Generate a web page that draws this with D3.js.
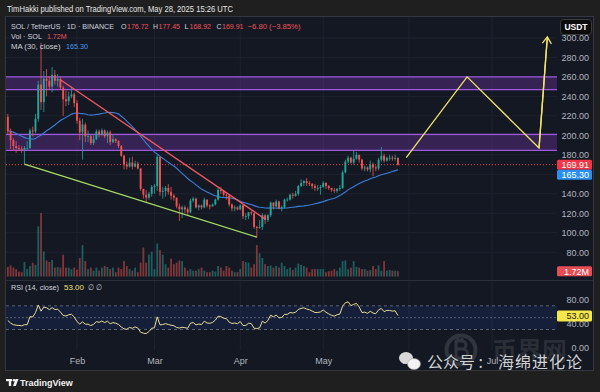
<!DOCTYPE html>
<html><head><meta charset="utf-8">
<script src="https://cdn.jsdelivr.net/npm/d3@7/dist/d3.min.js"></script>
<style>
html,body{margin:0;padding:0;background:#1f1f1f;}
svg{display:block;font-family:"Liberation Sans",Arial,sans-serif;}
</style></head><body>
<svg id="c" width="600" height="392"></svg>
<script>
// ---------- DATA (SOL/USDT daily, Binance) ----------
const startDate = "2025-01-07";
const opens = [219,204,195,189,187,186,185,187,187,205,
204,217,252,234,258,256,250,262,256,258,
249,237,235,240,242,233,215,203,211,199,
199,192,196,204,201,205,199,203,193,196,
194,189,179,170,168,172,168,171,166,145,
139,136,140,147,148,178,142,143,146,142,
138,136,127,124,126,124,121,133,135,126,
128,126,134,128,127,129,134,144,143,139,
138,129,125,126,124,128,117,117,121,120,
106,105,106,118,113,118,131,127,132,125,
126,134,134,139,138,140,148,151,153,151,
150,148,146,146,147,151,148,146,144,143,
145,146,162,173,177,172,176,180,175,166,
167,165,170,167,166,175,179,174,177,177,
176,176.72];
const highs = [222,207,197,194,190,189,189,194,207,209,
222,256,295,266,268,261,270,267,263,260,
251,246,245,250,244,236,218,217,213,205,
201,200,206,206,207,206,205,205,201,197,
195,190,180,173,177,178,174,173,166,145,
144,142,149,150,180,178,147,148,150,147,
140,136,130,128,128,126,135,137,136,129,
129,136,134,129,130,135,146,147,144,140,
139,130,128,127,129,129,120,121,122,120,
107,113,120,119,119,132,131,134,133,128,
135,136,140,141,143,149,155,154,156,153,
151,150,149,149,153,152,149,146,146,146,
149,164,175,179,178,184,183,180,176,169,
168,174,172,169,177,188,181,178,180,179,
180,177.45];
const lows = [201,186,184,182,184,182,170,185,186,199,
202,214,226,224,240,247,244,252,250,247,
220,230,231,238,229,212,195,175,193,193,
190,190,195,198,199,197,192,190,192,192,
187,178,165,165,167,165,167,165,143,135,
131,134,137,140,143,138,135,137,139,134,
133,125,112,115,120,118,120,131,125,123,
124,125,126,124,127,128,133,140,137,134,
127,122,122,123,123,114,113,114,118,104,
95,104,103,109,111,116,124,126,124,122,
125,132,133,135,137,138,147,148,148,148,
145,143,143,139,146,145,144,142,141,141,
143,145,161,171,171,170,175,172,164,163,
163,162,158,163,164,173,172,173,174,174,
174,168.92];
const closes = [204,195,189,187,186,185,187,187,205,204,
217,252,234,258,256,250,262,256,258,249,
237,235,240,242,233,215,203,211,199,199,
192,196,204,201,205,199,203,193,196,194,
189,179,170,168,172,168,171,166,145,139,
136,140,147,148,178,142,143,146,142,138,
136,127,124,126,124,121,133,135,126,128,
126,134,128,127,129,134,144,143,139,138,
129,125,126,124,128,117,117,121,120,106,
105,106,118,113,118,131,127,132,125,126,
134,134,139,138,140,148,151,153,151,150,
148,146,146,147,151,148,146,144,143,145,
146,162,173,177,172,176,180,175,166,167,
165,170,167,166,175,179,174,177,177,176,
176.72,169.91];
// volume in millions of SOL
const volumes = [3.1,3.6,2.9,2.4,1.6,1.4,4.7,2.4,3.4,4.5,
3.8,16.3,20.6,8.1,5.2,4.7,5.4,2.9,3.1,2.9,
7.1,2.9,2.9,2.4,2.9,2.2,6.0,10.2,5.0,2.4,
2.9,1.9,2.9,1.9,2.9,3.4,3.1,2.4,2.9,1.4,
2.9,2.4,5.0,3.4,2.4,1.9,2.9,1.4,4.5,9.4,
4.5,7.1,8.1,2.4,10.7,8.6,7.1,4.0,2.9,5.8,
4.0,4.5,5.2,5.0,2.9,1.9,2.4,1.9,1.9,2.4,
2.9,1.9,1.4,1.4,1.9,1.6,3.4,2.9,1.9,3.4,
2.9,1.9,1.4,1.4,2.4,5.0,4.7,4.5,2.9,4.0,
10.2,7.5,6.0,4.0,3.4,3.6,2.9,3.4,2.9,4.5,
3.4,2.4,2.9,2.1,2.9,4.2,3.8,3.4,2.9,1.4,
2.4,2.4,2.4,2.4,2.4,1.4,1.7,1.9,2.4,1.9,
2.9,5.0,5.2,2.4,2.9,5.0,3.1,2.9,2.4,2.4,
1.9,2.1,3.4,2.4,3.6,1.9,5.0,1.9,2.1,1.9,
1.9,1.72];
// closes of the 30 days before the first visible candle (MA / RSI warm-up)
const priorCloses = [236,214,212,228,226,229,223,221,215,216,199,191,192,188,189,195,198,197,186,183,188,186,193,189,205,209,215,217,213,219];

const priceTicks = [80,100,120,140,180,200,220,240,260,280,300];
const gridPrices = [80,100,120,140,160,180,200,220,240,260,280,300];
const rsiTicks = [0,40,80];
const monthTicks = ["2025-02-01","2025-03-01","2025-04-01","2025-05-01","2025-06-01","2025-07-01"];

const zones = [[184.5,201],[247,260]];
const resistance = {dates:["2025-01-26","2025-04-10"], prices:[257,114]};
const support = {dates:["2025-01-13","2025-04-07"], prices:[170.5,95.5]};
const projection = {dates:["2025-05-31","2025-06-22","2025-07-18","2025-07-21"], prices:[177,260,187,301]};

const legend = {symbol:"SOL / TetherUS · 1D · BINANCE", O:"176.72", H:"177.45", L:"168.92", C:"169.91", chg:"−6.80 (−3.85%)",
  vol:"1.72M", ma:"165.30", rsi:"53.00"};
const lastClose = 169.91, lastMA = 165.30, lastVol = 1.72, lastRSI = 53.00;

// ---------- SETUP ----------
const svg = d3.select("#c");
const W = 600, H = 392;
const PL = 6, PR = 557, PT = 17, PB = 279;
const parse = d3.utcParse("%Y-%m-%d");
const t0 = parse(startDate);
const dates = closes.map((_, i) => d3.utcDay.offset(t0, i));

const x = d3.scaleUtc().domain([parse("2025-02-01"), parse("2025-07-01")]).range([77, 492]);
const y = d3.scaleLinear().domain([52.5, 322.5]).range([279, 16]);
const yVol = d3.scaleLinear().domain([0, 20]).range([276.5, 214.9]);
const yR = d3.scaleLinear().domain([0, 100]).range([347.3, 288.05]);

const UP = "#26a69a", DN = "#ef5350";

svg.append("rect").attr("width", W).attr("height", H).attr("fill", "#1f1f1f");
svg.append("rect").attr("x", 5.5).attr("y", 16.5).attr("width", 588).attr("height", 354)
  .attr("fill", "#141823").attr("stroke", "#34373f");

const defs = svg.append("defs");
defs.append("clipPath").attr("id", "mainclip").append("rect")
  .attr("x", PL).attr("y", PT).attr("width", PR - PL).attr("height", PB - PT);
defs.append("clipPath").attr("id", "rsiclip").append("rect")
  .attr("x", PL).attr("y", 281).attr("width", PR - PL).attr("height", 69);

// header
svg.append("text").attr("x", 7).attr("y", 12).attr("fill", "#e6e6e6").attr("font-size", 9)
  .attr("textLength", 226).attr("lengthAdjust", "spacingAndGlyphs")
  .text("TimHakki published on TradingView.com, May 28, 2025 15:26 UTC");

// grid
const grid = svg.append("g");
grid.selectAll(".hg").data(gridPrices).join("line")
  .attr("x1", PL).attr("x2", PR).attr("y1", d => y(d)).attr("y2", d => y(d))
  .attr("stroke", "#1f2330").attr("stroke-width", 1);
grid.selectAll(".vg").data(monthTicks).join("line")
  .attr("x1", d => x(parse(d))).attr("x2", d => x(parse(d))).attr("y1", PT).attr("y2", 350)
  .attr("stroke", "#1f2330").attr("stroke-width", 1);

// pane separator
svg.append("line").attr("x1", 6).attr("x2", 593).attr("y1", 280.5).attr("y2", 280.5).attr("stroke", "#2a2e39");

const main = svg.append("g").attr("clip-path", "url(#mainclip)");

// zones
zones.forEach(z => {
  main.append("rect").attr("x", PL).attr("width", PR - PL)
    .attr("y", y(z[1])).attr("height", y(z[0]) - y(z[1]))
    .attr("fill", "rgba(126,60,190,0.32)");
  [z[0], z[1]].forEach(v => main.append("line").attr("x1", PL).attr("x2", PR)
    .attr("y1", y(v)).attr("y2", y(v)).attr("stroke", "#9b59e0").attr("stroke-width", 1.3));
});

// volume
main.selectAll(".vol").data(volumes).join("rect")
  .attr("x", (d, i) => x(dates[i]) - 0.9).attr("width", 1.8)
  .attr("y", d => yVol(d)).attr("height", d => yVol(0) - yVol(d))
  .attr("fill", (d, i) => closes[i] >= opens[i] ? UP : DN).attr("opacity", 0.5);

// current price line
main.append("line").attr("x1", PL).attr("x2", PR).attr("y1", y(lastClose)).attr("y2", y(lastClose))
  .attr("stroke", "#f23645").attr("stroke-width", 1).attr("stroke-dasharray", "1,2");

// MA(30)
const allCloses = priorCloses.concat(closes);
const off = priorCloses.length;
const ma = closes.map((_, i) => d3.mean(allCloses.slice(off + i - 29, off + i + 1)));
main.append("path").datum(ma)
  .attr("d", d3.line().x((d, i) => x(dates[i])).y(d => y(d)))
  .attr("fill", "none").attr("stroke", "#3a7fd6").attr("stroke-width", 1.1);

// candles
const cg = main.append("g");
closes.forEach((c, i) => {
  const col = c >= opens[i] ? UP : DN;
  const cx = x(dates[i]);
  cg.append("line").attr("x1", cx).attr("x2", cx).attr("y1", y(highs[i])).attr("y2", y(lows[i]))
    .attr("stroke", col).attr("stroke-width", 0.8);
  const top = y(Math.max(c, opens[i])), bot = y(Math.min(c, opens[i]));
  cg.append("rect").attr("x", cx - 0.95).attr("width", 1.9).attr("y", top)
    .attr("height", Math.max(0.8, bot - top)).attr("fill", col);
});

// trend lines
const lineGen = d3.line().x(d => x(d[0])).y(d => y(d[1]));
function trend(obj, color) {
  const pts = obj.dates.map((d, i) => [parse(d), obj.prices[i]]);
  main.append("path").datum(pts).attr("d", lineGen).attr("fill", "none")
    .attr("stroke", color).attr("stroke-width", 1.3);
  return pts;
}
trend(resistance, "#f0595f");
trend(support, "#a6dc62");
const proj = trend(projection, "#f2e46a");
// arrow head on projection
{
  const a = proj[proj.length - 2], b = proj[proj.length - 1];
  const ax = x(a[0]), ay = y(a[1]), bx = x(b[0]), by = y(b[1]);
  const ang = Math.atan2(by - ay, bx - ax), L = 8, s = 0.6;
  const p1 = [bx - L * Math.cos(ang - s), by - L * Math.sin(ang - s)];
  const p2 = [bx - L * Math.cos(ang + s), by - L * Math.sin(ang + s)];
  svg.append("path").attr("d", `M${p1[0]},${p1[1]}L${bx},${by}L${p2[0]},${p2[1]}`)
    .attr("fill", "none").attr("stroke", "#f2e46a").attr("stroke-width", 1.3);
  svg.append("line").attr("x1", ax).attr("y1", ay).attr("x2", bx).attr("y2", by)
    .attr("stroke", "#f2e46a").attr("stroke-width", 1.3);
}

// price axis
const axisFont = 9, axisCol = "#b2b5be";
const pax = svg.append("g").attr("transform", "translate(589,0)")
  .call(d3.axisLeft(y).tickValues(priceTicks).tickFormat(d3.format(".2f")).tickSize(0).tickPadding(0));
pax.select(".domain").remove();
pax.selectAll("text").attr("fill", axisCol).attr("font-size", axisFont).attr("font-family", "Liberation Sans, Arial, sans-serif");

// price labels
function tag(yc, txt, bg, fg) {
  svg.append("rect").attr("x", 557).attr("y", yc - 5).attr("width", 35).attr("height", 10).attr("rx", 1.5).attr("fill", bg);
  svg.append("text").attr("x", 589).attr("y", yc + 3.3).attr("text-anchor", "end").attr("fill", fg)
    .attr("font-size", 9).text(txt);
}
const yc1 = y(lastClose);
tag(yc1, lastClose.toFixed(2), "#f23645", "#ffffff");
tag(Math.max(y(lastMA), yc1 + 10), lastMA.toFixed(2), "#2a8ff0", "#ffffff");
tag(yVol(lastVol), legend.vol, "#e84c55", "#ffffff");

// USDT box
svg.append("rect").attr("x", 560.5).attr("y", 19.5).attr("width", 31).attr("height", 15).attr("rx", 3)
  .attr("fill", "#0c0c0c").attr("stroke", "#3c3c3c");
svg.append("text").attr("x", 576).attr("y", 30).attr("text-anchor", "middle").attr("fill", "#ffffff")
  .attr("font-size", 8.5).attr("font-weight", "bold").text("USDT");

// legend (each piece fitted to the width it takes in the reference)
const lg = svg.append("g").attr("font-size", 7.6);
const gray = "#d1d4dc", red = "#f0525a";
function t(xp, yp, txt, col, w) {
  const e = lg.append("text").attr("x", xp).attr("y", yp).attr("fill", col).text(txt);
  if (w) e.attr("textLength", w).attr("lengthAdjust", "spacingAndGlyphs");
}
t(11, 29, legend.symbol, gray, 103);
t(121, 29, "O", gray, 5.5); t(127, 29, legend.O, red, 21.5);
t(153, 29, "H", gray, 5); t(158.5, 29, legend.H, red, 21.5);
t(184.5, 29, "L", gray, 4.2); t(189.5, 29, legend.L, red, 21.5);
t(216.5, 29, "C", gray, 5); t(222, 29, legend.C, red, 21.5);
t(247.5, 29, legend.chg, red, 53);
t(11, 39, "Vol · SOL", gray, 31); t(47, 39, legend.vol, red, 19.5);
t(11, 49, "MA (30, close)", gray, 49.5); t(66, 49, legend.ma, "#4a9aea", 22);

// ---------- RSI ----------
function rsiCalc(s, n) {
  const out = new Array(s.length).fill(null);
  let g = 0, l = 0;
  for (let k = 1; k <= n; k++) { const d = s[k] - s[k - 1]; if (d > 0) g += d; else l -= d; }
  g /= n; l /= n; out[n] = 100 - 100 / (1 + g / l);
  for (let k = n + 1; k < s.length; k++) {
    const d = s[k] - s[k - 1];
    g = (g * (n - 1) + Math.max(d, 0)) / n; l = (l * (n - 1) + Math.max(-d, 0)) / n;
    out[k] = l === 0 ? 100 : 100 - 100 / (1 + g / l);
  }
  return out;
}
const rsiAll = rsiCalc(allCloses, 14);
const rsi = closes.map((_, i) => rsiAll[off + i]);
const rg = svg.append("g").attr("clip-path", "url(#rsiclip)");
rg.append("rect").attr("x", PL).attr("width", PR - PL).attr("y", yR(70)).attr("height", yR(30) - yR(70))
  .attr("fill", "rgba(41,98,255,0.10)");
[70, 50, 30].forEach(v => rg.append("line").attr("x1", PL).attr("x2", PR).attr("y1", yR(v)).attr("y2", yR(v))
  .attr("stroke", "#6f7380").attr("stroke-width", 0.8).attr("stroke-dasharray", v === 50 ? "2,2" : "3,3"));
rg.append("path").datum(rsi).attr("d", d3.line().x((d, i) => x(dates[i])).y(d => yR(d)))
  .attr("fill", "none").attr("stroke", "#e9dc95").attr("stroke-width", 1);

const rax = svg.append("g").attr("transform", "translate(589,0)")
  .call(d3.axisLeft(yR).tickValues(rsiTicks).tickFormat(d3.format(".2f")).tickSize(0).tickPadding(0));
rax.select(".domain").remove();
rax.selectAll("text").attr("fill", axisCol).attr("font-size", axisFont).attr("font-family", "Liberation Sans, Arial, sans-serif");
// RSI value tag
svg.append("rect").attr("x", 557).attr("y", yR(lastRSI) - 5.5).attr("width", 35).attr("height", 11).attr("rx", 1.5).attr("fill", "#f5e64a");
svg.append("text").attr("x", 589).attr("y", yR(lastRSI) + 3.3).attr("text-anchor", "end").attr("fill", "#1a1a1a")
  .attr("font-size", 9).text(legend.rsi);
t(11, 290, "RSI (14, close)", gray, 48); t(64, 290, legend.rsi, "#f2e46a", 20); t(88, 290, "∅ ∅", gray, 14);

// time axis
const tax = svg.append("g").attr("transform", "translate(0,358)")
  .call(d3.axisBottom(x).tickValues(monthTicks.map(parse)).tickFormat(d3.utcFormat("%b")).tickSize(0).tickPadding(0));
tax.select(".domain").remove();
tax.selectAll("text").attr("fill", axisCol).attr("font-size", axisFont).attr("font-family", "Liberation Sans, Arial, sans-serif");

// TradingView footer
const lf = svg.append("g").attr("fill", "#f0f0f0");
lf.append("rect").attr("x", 6).attr("y", 379).attr("width", 6).attr("height", 2.2);
lf.append("rect").attr("x", 8.8).attr("y", 379).attr("width", 2.4).attr("height", 7);
lf.append("circle").attr("cx", 14).attr("cy", 380.3).attr("r", 1.3);
lf.append("path").attr("d", "M15.5,379 L18.5,379 L15.8,386 L13,386 Z");
svg.append("text").attr("x", 20).attr("y", 386).attr("fill", "#f0f0f0").attr("font-size", 9).attr("font-weight", "bold").text("TradingView");

// watermarks (overlaid on the picture in the reference)
const wm = svg.append("g");
const wmc = "rgba(200,200,200,0.16)";
wm.append("circle").attr("cx", 461).attr("cy", 350).attr("r", 14.5).attr("fill", "none")
  .attr("stroke", wmc).attr("stroke-width", 4);
wm.append("path").attr("d", "M456,341 h6 a4,4 0 0 1 0,8 h-6 z M456,349 h7 a4.5,4.5 0 0 1 0,9 h-7 z M458,338 v3 M462,338 v3 M458,358 v3 M462,358 v3")
  .attr("fill", "none").attr("stroke", wmc).attr("stroke-width", 3);
wm.append("text").attr("x", 492).attr("y", 360).attr("font-size", 25).attr("font-weight", "bold")
  .attr("font-family", "Noto Sans CJK SC").attr("fill", "rgba(200,200,200,0.13)").text("币界网");
// wechat icon
wm.append("ellipse").attr("cx", 406).attr("cy", 358).attr("rx", 7).attr("ry", 6).attr("fill", "#d8d8d8");
wm.append("ellipse").attr("cx", 414).attr("cy", 364).attr("rx", 6.5).attr("ry", 5.5).attr("fill", "#f2f2f2").attr("stroke", "#999").attr("stroke-width", 0.6);
wm.append("text").attr("x", 427).attr("y", 368).attr("font-size", 16).attr("font-family", "Noto Sans CJK SC")
  .attr("fill", "#d2d2d2").text("公众号 :");
wm.append("text").attr("x", 498).attr("y", 368).attr("font-size", 16).attr("font-family", "Noto Sans CJK SC")
  .attr("fill", "#d2d2d2").attr("textLength", 84).attr("lengthAdjust", "spacing").text("海绵进化论");
</script>
</body></html>
